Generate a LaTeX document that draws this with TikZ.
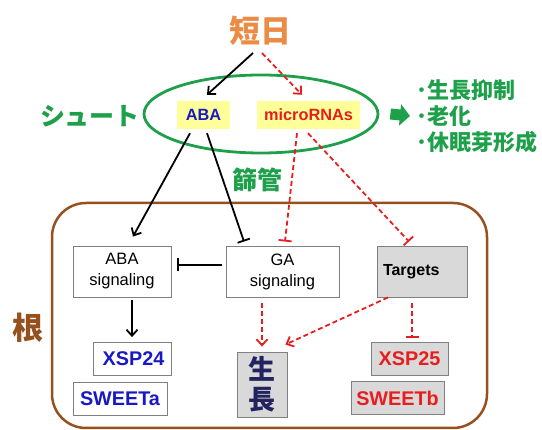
\documentclass[tikz,border=0pt]{standalone}
\usepackage{fontspec}
\setmainfont{Liberation Sans}
\newfontfamily\jpfont{Noto Sans CJK JP}
\usetikzlibrary{shapes.geometric, arrows.meta, positioning}
\definecolor{shootgreen}{RGB}{30,160,75}
\definecolor{dayorange}{RGB}{235,140,70}
\definecolor{rootbrown}{RGB}{150,80,30}
\definecolor{abablue}{RGB}{25,25,195}
\definecolor{mirred}{RGB}{230,30,30}
\definecolor{boxyellow}{RGB}{255,255,153}
\definecolor{boxgray}{RGB}{217,217,217}
\definecolor{growthnavy}{RGB}{35,35,95}
\tikzstyle{arrow} = [line width=1.8pt,->,>={Straight Barb[length=6pt,width=11pt]}]
\tikzstyle{redarrow} = [arrow, mirred, dash pattern=on 5pt off 3pt]
\tikzstyle{inhibit} = [line width=1.8pt,-{Bar[width=13pt,line width=1.8pt]}]
\tikzstyle{redinhibit} = [inhibit, mirred, dash pattern=on 5pt off 3pt]
\tikzstyle{hormone} = [rectangle, fill=boxyellow, minimum height=28pt, inner sep=0pt, font=\bfseries\fontsize{16.3}{18}\selectfont]
\tikzstyle{signal} = [rectangle, draw=gray, line width=0.9pt, minimum height=51pt, align=center, font=\fontsize{16.5}{21}\selectfont]
\tikzstyle{gene} = [rectangle, draw=gray, line width=0.9pt, minimum height=33pt, inner sep=0pt, font=\bfseries\fontsize{19.8}{22}\selectfont]
\tikzstyle{jplabel} = [inner sep=0pt]

\begin{document}
\begin{tikzpicture}[x=1pt, y=-1pt]
\useasboundingbox (0,0) rectangle (542,430);
% Placement of nodes
\node (tanjitsu) [jplabel, text=dayorange, font=\jpfont\bfseries\fontsize{31}{33}\selectfont] at (260,31) {短日};
\node (shootEll) [ellipse, draw=shootgreen, line width=2.8pt, minimum width=234pt, minimum height=78pt, inner sep=0pt] at (261,114) {};
\node (shootLabel) [jplabel, text=shootgreen, font=\jpfont\bfseries\fontsize{25}{27}\selectfont] at (90,116) {シュート};
\node (aba) [hormone, text=abablue, minimum width=53pt] at (203.5,115) {ABA};
\node (mirna) [hormone, text=mirred, minimum width=103pt] at (308.5,115) {microRNAs};
\node (effects) [jplabel, text=shootgreen, anchor=west, align=left, font=\jpfont\bfseries\fontsize{22}{26}\selectfont] at (416,116) {･生長抑制\\･老化\\･休眠芽形成};
\node (sieve) [jplabel, text=shootgreen, font=\jpfont\bfseries\fontsize{25}{27}\selectfont] at (257.5,180) {篩管};

%Root nodes
\node (rootBox) [rectangle, draw=rootbrown, line width=2.5pt, rounded corners=34pt, minimum width=435pt, minimum height=225pt] at (269.5,315.5) {};
\node (rootLabel) [jplabel, text=rootbrown, font=\jpfont\bfseries\fontsize{31}{33}\selectfont] at (28,328) {根};
\node (abaSig) [signal, minimum width=98pt] at (122,271.5) {ABA\\signaling};
\node (gaSig) [signal, minimum width=113pt] at (282.5,271.5) {GA\\signaling};
\node (targets) [signal, fill=boxgray, minimum width=90pt, inner xsep=6pt, text width=78pt, align=left, font=\bfseries\fontsize{16}{18}\selectfont] at (422,271.5) {Targets};
\node (xsp24) [gene, text=abablue, minimum width=78pt, xshift=0pt] at (132,359) {\hspace{3pt}XSP24};
\node (sweetA) [gene, text=abablue, minimum width=94pt] at (120,398.5) {SWEETa};
\node (growth) [gene, fill=boxgray, text=growthnavy, minimum width=50pt, minimum height=65pt, align=center, font=\jpfont\bfseries\fontsize{27}{30}\selectfont] at (262,384.5) {生\\長};
\node (xsp25) [gene, fill=boxgray, text=mirred, minimum width=77pt] at (409.5,358.5) {XSP25};
\node (sweetB) [gene, fill=boxgray, text=mirred, minimum width=93pt] at (397.5,398) {SWEETb};

% Placement of edges
\draw [arrow] ([xshift=-7pt,yshift=-22pt]tanjitsu.center) -- ([xshift=3.5pt,yshift=6pt]aba.north);
\draw [redarrow] ([xshift=2pt,yshift=-22pt]tanjitsu.center) -- ([xshift=-6.5pt,yshift=6pt]mirna.north);
\draw [line width=11pt, shootgreen, -{Triangle[length=10pt,width=21pt]}] ([xshift=11pt]shootEll.east) -- ([xshift=-6pt]effects.west);

% shoot to root
\draw [arrow] ([xshift=-13.5pt,yshift=-4pt]aba.south) -- ([xshift=11pt,yshift=9pt]abaSig.north);
\draw [inhibit] ([xshift=3.5pt,yshift=-4pt]aba.south) -- ([xshift=-38.5pt,yshift=4pt]gaSig.north);
\draw [redinhibit] ([xshift=-11.5pt,yshift=-4pt]mirna.south) -- ([xshift=2.5pt,yshift=4pt]gaSig.north);
\draw [redinhibit] ([xshift=-0.5pt,yshift=-4pt]mirna.south) -- ([xshift=-13pt,yshift=4pt]targets.north);

% inside root
\draw [inhibit] ([xshift=-4pt,yshift=6.5pt]gaSig.west) -- ([xshift=6pt,yshift=6.5pt]abaSig.east);
\draw [arrow] ([xshift=10pt,yshift=-3pt]abaSig.south) -- ([yshift=5pt]xsp24.north);
\draw [redarrow] ([xshift=-20.5pt,yshift=-6pt]gaSig.south) -- ([yshift=5pt]growth.north);
\draw [redarrow] ([xshift=-34pt]targets.south) -- ([xshift=-2pt,yshift=7pt]growth.north east);
\draw [redinhibit] ([xshift=-10pt,yshift=-6pt]targets.south) -- ([xshift=2.5pt,yshift=4pt]xsp25.north);
\end{tikzpicture}
\end{document}
